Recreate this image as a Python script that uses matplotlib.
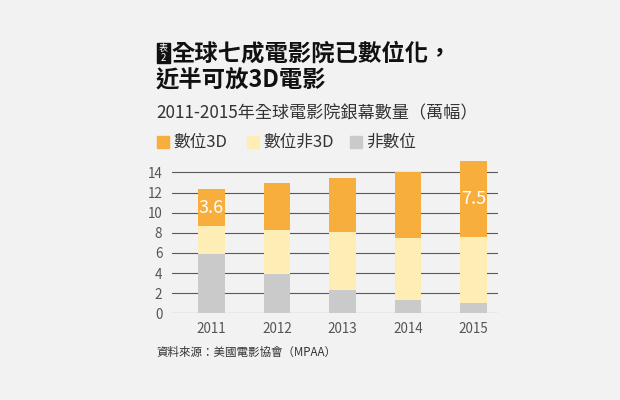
import numpy as np
import matplotlib
matplotlib.use('Agg')
import matplotlib.pyplot as plt
from matplotlib.patches import Rectangle

plt.rcParams['font.family'] = ['Noto Sans CJK TC', 'DejaVu Sans']

# data (萬幅)
years = ['2011', '2012', '2013', '2014', '2015']
non_digital = [5.9, 3.9, 2.3, 1.3, 1.0]
digital_2d = [2.8, 4.4, 5.8, 6.2, 6.6]
digital_3d = [3.6, 4.6, 5.3, 6.5, 7.5]
labels = ['數位3D', '數位非3D', '非數位']
shown = {0: '3.6', 4: '7.5'}

bg = '#f2f2f2'
c_3d = '#f7ae3c'
c_2d = '#feedb4'
c_non = '#cacaca'

fig = plt.figure(figsize=(6.2, 4), dpi=100, facecolor=bg)
ax = fig.add_axes([0.2774, 0.2168, 0.5263, 0.390])
ax.set_facecolor(bg)

x = np.arange(len(years))
w = 0.405
nd = np.array(non_digital)
d2 = np.array(digital_2d)
d3 = np.array(digital_3d)
ax.bar(x, nd, w, color=c_non, zorder=3)
ax.bar(x, d2, w, bottom=nd, color=c_2d, zorder=3)
ax.bar(x, d3, w, bottom=nd + d2, color=c_3d, zorder=3)
for i, s in shown.items():
    ax.text(x[i], nd[i] + d2[i] + d3[i] / 2, s, ha='center', va='center',
            color='white', fontsize=13, zorder=4)

ax.set_xlim(-0.60, 4.38)
ax.set_ylim(0, 15.5)
ax.set_yticks(range(0, 15, 2))
ax.set_xticks(x)
ax.set_xticklabels(years)
for yv in range(0, 15, 2):
    ax.axhline(yv, color='#5a5a5a', lw=0.8, zorder=1)
for sp in ax.spines.values():
    sp.set_visible(False)
ax.tick_params(length=0, labelsize=9.7, labelcolor='#555555')
ax.tick_params(axis='x', pad=6)
ax.tick_params(axis='y', pad=7)

# title block
fig.patches.append(Rectangle((157 / 620, 1 - 63 / 400), 13 / 620, 20 / 400,
                             transform=fig.transFigure, color='#111111'))
fig.text(163.5 / 620, 1 - 48 / 400, '表', color='white', fontsize=6.5,
         ha='center', va='center')
fig.text(163.5 / 620, 1 - 58 / 400, '2', color='white', fontsize=7,
         ha='center', va='center')
fig.text(172 / 620, 1 - 54 / 400, '全球七成電影院已數位化，', fontsize=16.8,
         fontweight='bold', color='#111111', va='center')
fig.text(156 / 620, 1 - 81 / 400, '近半可放3D電影', fontsize=16.8,
         fontweight='bold', color='#111111', va='center')
fig.text(156 / 620, 1 - 113 / 400, '2011-2015年全球電影院銀幕數量（萬幅）',
         fontsize=12.3, color='#333333', va='center')

# legend
lx = [157, 247, 350]
for px, lab, col in zip(lx, labels, [c_3d, c_2d, c_non]):
    fig.patches.append(Rectangle((px / 620, 1 - 148 / 400), 12 / 620, 12 / 400,
                                 transform=fig.transFigure, color=col))
    fig.text((px + 16) / 620, 1 - 142 / 400, lab, fontsize=12,
             color='#333333', va='center')

fig.text(156 / 620, 1 - 352 / 400, '資料來源：美國電影協會（MPAA）',
         fontsize=8.3, color='#333333', va='center')

fig.savefig('out.png', dpi=100, facecolor=bg)
